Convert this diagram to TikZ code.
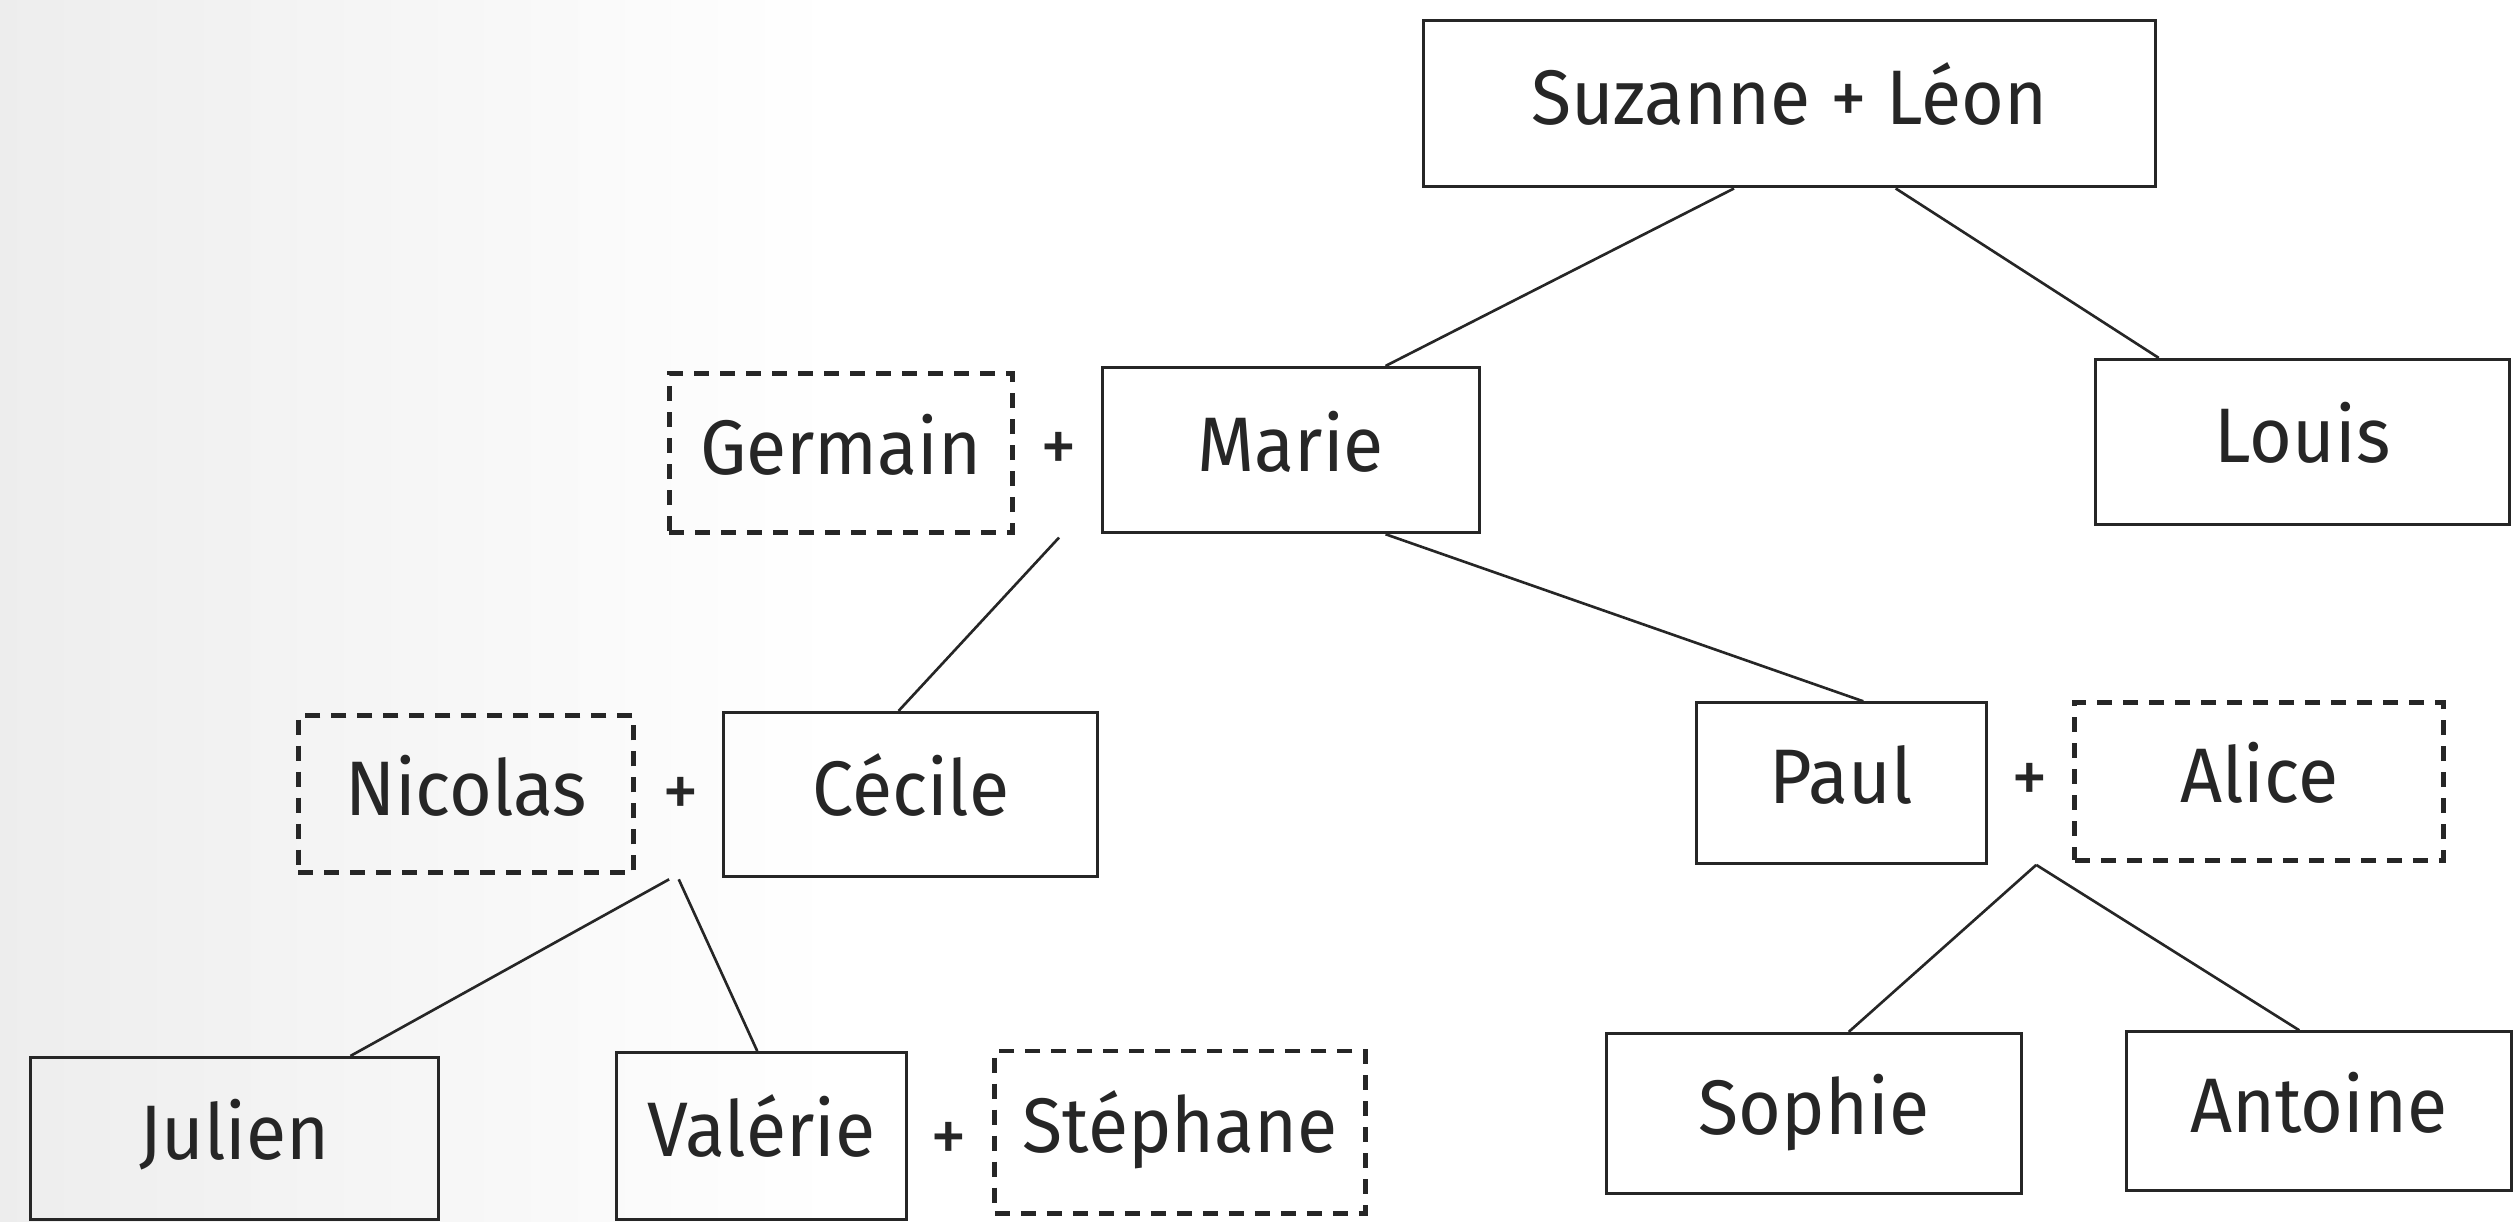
\documentclass[tikz,border=0pt]{standalone}
\usepackage{fontspec}
\setmainfont{Fira Sans}[FakeStretch=0.95]
\usetikzlibrary{calc}
\newcommand\pxu{0.16046mm}
\begin{document}
\begin{tikzpicture}[x=0.16046mm, y=-0.16046mm,
  person/.style={draw=black!85, line width=0.85pt, inner sep=0pt,
    font=\fontsize{22}{26}\selectfont, text=black!85,
    text height=15.2pt, text depth=3.3pt},
  partner/.style={person, line width=1.4pt, dash pattern=on 1.5mm off 1.1mm},
  plus/.style={inner sep=0pt, font=\fontsize{22}{26}\selectfont, text=black!85},
  link/.style={draw=black!85, line width=0.75pt}]
\useasboundingbox (0,0) rectangle (1568,761);
\shade[left color=black!7, right color=white] (0,0) rectangle (520,761);

% generation 1
\node[person, minimum width=456*\pxu, minimum height=104*\pxu] (suz) at (1115,64.5) {Suzanne + Léon};
% generation 2
\node[person, minimum width=258*\pxu, minimum height=103*\pxu] (louis) at (1435,275.5) {Louis};
\node[partner, minimum width=214*\pxu, minimum height=99*\pxu] (germain) at (524,282.5) {Germain};
\node[plus] (p1) at (660,282) {+};
\node[person, minimum width=235*\pxu, minimum height=103*\pxu] (marie) at (804.5,280.5) {Marie};
% generation 3
\node[partner, minimum width=209*\pxu, minimum height=98*\pxu] (nicolas) at (290.5,495) {Nicolas};
\node[plus] (p2) at (424,497) {+};
\node[person, minimum width=233*\pxu, minimum height=102*\pxu] (cecile) at (567.5,495) {Cécile};
\node[person, minimum width=181*\pxu, minimum height=100*\pxu] (paul) at (1147.5,488) {Paul};
\node[plus] (p3) at (1265,488) {+};
\node[partner, minimum width=230*\pxu, minimum height=98*\pxu] (alice) at (1408,487) {Alice};
% generation 4
\node[person, minimum width=254*\pxu, minimum height=101*\pxu] (julien) at (146,709.5) {Julien};
\node[person, minimum width=181*\pxu, minimum height=104*\pxu] (valerie) at (474.5,708) {Valérie};
\node[plus] (p4) at (591,712) {+};
\node[partner, minimum width=231*\pxu, minimum height=101*\pxu] (stephane) at (735.5,705.5) {Stéphane};
\node[person, minimum width=259*\pxu, minimum height=100*\pxu] (sophie) at (1130.5,694) {Sophie};
\node[person, minimum width=240*\pxu, minimum height=99*\pxu] (antoine) at (1445,692.5) {Antoine};

% couple points
\coordinate (gm) at (660,335);
\coordinate (nc1) at (417,548);
\coordinate (nc2) at (423,548);
\coordinate (pa) at (1269,539);

% connectors
\draw[link] ($(suz.south west)!0.425!(suz.south east)$) -- ($(marie.north west)!0.749!(marie.north east)$);
\draw[link] ($(suz.south west)!0.645!(suz.south east)$) -- ($(louis.north west)!0.155!(louis.north east)$);
\draw[link] ($(marie.south west)!0.749!(marie.south east)$) -- ($(paul.north west)!0.575!(paul.north east)$);
\draw[link] (gm) -- ($(cecile.north west)!0.468!(cecile.north east)$);
\draw[link] (nc1) -- ($(julien.north west)!0.783!(julien.north east)$);
\draw[link] (nc2) -- ($(valerie.north west)!0.486!(valerie.north east)$);
\draw[link] (pa) -- ($(sophie.north west)!0.583!(sophie.north east)$);
\draw[link] (pa) -- ($(antoine.north west)!0.45!(antoine.north east)$);
\end{tikzpicture}
\end{document}
